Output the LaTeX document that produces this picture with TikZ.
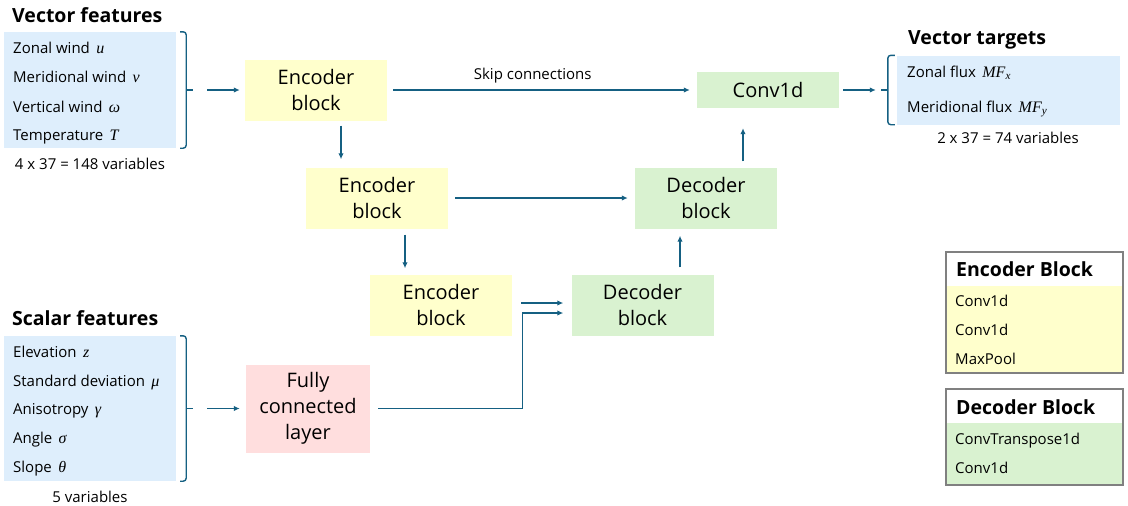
\documentclass[tikz,border=0pt]{standalone}
\usepackage{fontspec}
\setmainfont{Open Sans}
\newfontfamily\varfont{Liberation Serif}
\usetikzlibrary{arrows.meta}
\definecolor{arrowblue}{RGB}{21,96,130}
\definecolor{inblue}{RGB}{222,238,252}
\definecolor{encyellow}{RGB}{255,255,204}
\definecolor{decgreen}{RGB}{217,242,208}
\definecolor{fcpink}{RGB}{255,222,222}
\definecolor{framegray}{RGB}{128,128,128}

% italic variable symbols
\newcommand{\var}[1]{{\varfont\itshape\fontsize{16}{18}\selectfont #1}}

\tikzset{
    block/.style={align=center, inner sep=0pt, font=\fontsize{20}{26}\selectfont},
    encblock/.style={block, fill=encyellow, minimum width=142, minimum height=61},
    decblock/.style={block, fill=decgreen, minimum width=142, minimum height=61},
    listbox/.style={fill=inblue, inner sep=0pt},
    flow/.style={draw=arrowblue, line width=1.4pt, -{Latex[length=6pt,width=5.5pt]}},
    bracket/.style={draw=arrowblue, line width=1.4pt, rounded corners=3pt},
    item/.style={anchor=base west, inner sep=0pt, font=\fontsize{15}{18}\selectfont},
    caption/.style={anchor=base, inner sep=0pt, font=\fontsize{15}{18}\selectfont},
    heading/.style={anchor=base west, inner sep=0pt, font=\bfseries\fontsize{19.5}{23}\selectfont},
    legendframe/.style={draw=framegray, line width=1.3pt},
}

\begin{document}
\begin{tikzpicture}[x=1pt, y=-1pt]
    \useasboundingbox (0,0) rectangle (1128,506);

    % Vector inputs
    \node[heading] (vectitle) at (12,23) {Vector features};
    \node[listbox, minimum width=172, minimum height=116] (vecbox) at (90,90) {};
    \foreach \y/\txt [count=\i] in {53/Zonal wind \,\var{u}, 82/Meridional wind \,\var{v},
                                    112/Vertical wind \,\var{ω}, 140/Temperature \,\var{T}}
        \node[item] (vec\i) at (13,\y) {\txt};
    \node[caption] (veccount) at (90,169) {4 x 37 = 148 variables};
    \draw[bracket] ([xshift=4]vecbox.north east) -- ([xshift=10]vecbox.north east)
        -- ([xshift=10]vecbox.south east) -- ([xshift=4]vecbox.south east);
    \draw[bracket] ([xshift=10]vecbox.east) -- ([xshift=17]vecbox.east) coordinate (vectip);

    % Scalar inputs
    \node[heading] (sclrtitle) at (12,325) {Scalar features};
    \node[listbox, minimum width=172, minimum height=145] (sclrbox) at (90,408.5) {};
    \foreach \y/\txt [count=\i] in {357/Elevation \,\var{z}, 386/Standard deviation \,\var{μ},
                                    414/Anisotropy \,\var{γ}, 443/Angle \,\var{σ}, 472/Slope \,\var{θ}}
        \node[item] (sclr\i) at (13,\y) {\txt};
    \node[caption] (sclrcount) at (90,502) {5 variables};
    \draw[bracket] ([xshift=4]sclrbox.north east) -- ([xshift=10]sclrbox.north east)
        -- ([xshift=10]sclrbox.south east) -- ([xshift=4]sclrbox.south east);
    \draw[bracket] ([xshift=10]sclrbox.east) -- ([xshift=17]sclrbox.east) coordinate (sclrtip);

    % Targets
    \node[heading] (tgttitle) at (908,44) {Vector targets};
    \node[listbox, minimum width=223, minimum height=69] (tgtbox) at (1008.5,90) {};
    \node[item] (tgt1) at (907,77) {Zonal flux \,\var{MF\textsubscript{x}}};
    \node[item] (tgt2) at (907,112) {Meridional flux \,\var{MF\textsubscript{y}}};
    \node[caption] (tgtcount) at (1008,143) {2 x 37 = 74 variables};
    \draw[bracket] ([xshift=-2]tgtbox.north west) -- ([xshift=-9]tgtbox.north west)
        -- ([xshift=-9]tgtbox.south west) -- ([xshift=-2]tgtbox.south west);
    \draw[bracket] ([xshift=-9]tgtbox.west) -- ([xshift=-16]tgtbox.west) coordinate (tgttip);

    % Network blocks
    \node[encblock] (enc1) at (316,90) {Encoder\\block};
    \node[encblock] (enc2) at (377,198) {Encoder\\block};
    \node[encblock] (enc3) at (441,305) {Encoder\\block};
    \node[decblock] (dec3) at (642.5,305) {Decoder\\block};
    \node[decblock] (dec2) at (706,198) {Decoder\\block};
    \node[decblock, minimum height=36] (conv) at (768,90) {Conv1d};
    \node[block, fill=fcpink, minimum width=124, minimum height=88] (fc) at (308,408.5) {Fully\\connected\\layer};

    % Connections
    \draw[flow, shorten <=14pt, shorten >=5pt] (vectip) -- (enc1.west);
    \draw[flow, shorten <=14pt, shorten >=6pt] (sclrtip) -- (fc.west);
    \draw[flow, shorten <=6pt, shorten >=7pt] (enc1.east) --
        node[caption, pos=0.47, yshift=11pt] (skiplabel) {Skip connections} (conv.west);
    \coordinate (down1) at ([xshift=25]enc1.south);
    \draw[flow, shorten <=5pt, shorten >=8pt] (down1) -- (down1 |- enc2.north);
    \coordinate (down2) at ([xshift=28]enc2.south);
    \draw[flow, shorten <=6pt, shorten >=6pt] (down2) -- (down2 |- enc3.north);
    \draw[flow, shorten <=7pt, shorten >=7pt] (enc2.east) -- (dec2.west);
    \draw[flow] ([xshift=9,yshift=2]enc3.east) -- ([xshift=-8,yshift=2]dec3.west);
    \draw[flow] ([xshift=8]fc.east) -| ([xshift=-49,yshift=-8]dec3.west) -- ([xshift=-8,yshift=-8]dec3.west);
    \coordinate (up1) at ([xshift=37.5]dec3.north);
    \draw[flow, shorten <=7pt, shorten >=7pt] (up1) -- (up1 |- dec2.south);
    \coordinate (up2) at ([xshift=37]dec2.north);
    \draw[flow, shorten <=6pt, shorten >=20pt] (up2) -- (up2 |- conv.south);
    \draw[flow, shorten <=4pt, shorten >=5pt] (conv.east) -- (tgttip);

    % Legend: encoder block
    \fill[encyellow] (946,286) rectangle (1123,373);
    \draw[legendframe] (946,252) rectangle (1123,373);
    \node[heading] (enctitle) at (956,276) {Encoder Block};
    \foreach \y/\txt [count=\i] in {306/Conv1d, 335/Conv1d, 364/MaxPool}
        \node[item] (encitem\i) at (955,\y) {\txt};

    % Legend: decoder block
    \fill[decgreen] (946,423) rectangle (1123,485);
    \draw[legendframe] (946,389) rectangle (1123,485);
    \node[heading] (dectitle) at (956,414) {Decoder Block};
    \foreach \y/\txt [count=\i] in {444/ConvTranspose1d, 473/Conv1d}
        \node[item] (decitem\i) at (955,\y) {\txt};
\end{tikzpicture}
\end{document}
